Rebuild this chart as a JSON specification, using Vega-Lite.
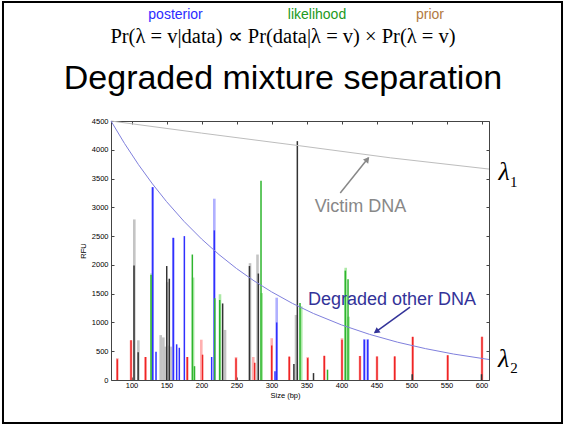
{
  "$schema": "https://vega.github.io/schema/vega-lite/v6.json",
  "width": 378,
  "height": 259,
  "autosize": {"type": "none"},
  "padding": {"left": 111, "top": 121, "right": 76, "bottom": 46},
  "background": "white",
  "config": {"view": {"stroke": null}, "font": "Liberation Sans"},
  "datasets": {
    "peaks": [
      {"bp": 104, "rfu": 2790, "dye": "black", "tone": "light"},
      {"bp": 109.8, "rfu": 690, "dye": "black", "tone": "light"},
      {"bp": 129, "rfu": 1860, "dye": "green", "tone": "light"},
      {"bp": 130.2, "rfu": 3350, "dye": "blue", "tone": "light"},
      {"bp": 141.7, "rfu": 780, "dye": "black", "tone": "light"},
      {"bp": 145.5, "rfu": 740, "dye": "black", "tone": "light"},
      {"bp": 148, "rfu": 580, "dye": "black", "tone": "light"},
      {"bp": 151, "rfu": 1700, "dye": "black", "tone": "light"},
      {"bp": 153, "rfu": 600, "dye": "black", "tone": "light"},
      {"bp": 157, "rfu": 580, "dye": "black", "tone": "light"},
      {"bp": 159.7, "rfu": 2470, "dye": "blue", "tone": "light"},
      {"bp": 188, "rfu": 1780, "dye": "green", "tone": "light"},
      {"bp": 218.3, "rfu": 3150, "dye": "blue", "tone": "light"},
      {"bp": 226.4, "rfu": 1490, "dye": "green", "tone": "light"},
      {"bp": 233.6, "rfu": 870, "dye": "black", "tone": "light"},
      {"bp": 269.3, "rfu": 2030, "dye": "black", "tone": "light"},
      {"bp": 280, "rfu": 2180, "dye": "black", "tone": "light"},
      {"bp": 286, "rfu": 1510, "dye": "green", "tone": "light"},
      {"bp": 307.4, "rfu": 1430, "dye": "blue", "tone": "light"},
      {"bp": 335, "rfu": 1130, "dye": "black", "tone": "light"},
      {"bp": 342.5, "rfu": 1280, "dye": "green", "tone": "light"},
      {"bp": 406, "rfu": 1950, "dye": "green", "tone": "light"},
      {"bp": 410, "rfu": 1100, "dye": "green", "tone": "light"},
      {"bp": 432.6, "rfu": 710, "dye": "blue", "tone": "light"},
      {"bp": 437.4, "rfu": 710, "dye": "blue", "tone": "light"},
      {"bp": 79.7, "rfu": 380, "dye": "red", "tone": "light"},
      {"bp": 99.3, "rfu": 690, "dye": "red", "tone": "light"},
      {"bp": 120, "rfu": 400, "dye": "red", "tone": "light"},
      {"bp": 179.7, "rfu": 400, "dye": "red", "tone": "light"},
      {"bp": 199.7, "rfu": 700, "dye": "red", "tone": "light"},
      {"bp": 249.3, "rfu": 400, "dye": "red", "tone": "light"},
      {"bp": 274, "rfu": 400, "dye": "red", "tone": "light"},
      {"bp": 300.3, "rfu": 726, "dye": "red", "tone": "light"},
      {"bp": 325.4, "rfu": 406, "dye": "red", "tone": "light"},
      {"bp": 351.7, "rfu": 400, "dye": "red", "tone": "light"},
      {"bp": 375.4, "rfu": 420, "dye": "red", "tone": "light"},
      {"bp": 400.7, "rfu": 726, "dye": "red", "tone": "light"},
      {"bp": 426.4, "rfu": 418, "dye": "red", "tone": "light"},
      {"bp": 450.7, "rfu": 410, "dye": "red", "tone": "light"},
      {"bp": 476, "rfu": 410, "dye": "red", "tone": "light"},
      {"bp": 501.7, "rfu": 750, "dye": "red", "tone": "light"},
      {"bp": 551.7, "rfu": 430, "dye": "red", "tone": "light"},
      {"bp": 600.7, "rfu": 750, "dye": "red", "tone": "light"},
      {"bp": 79.7, "rfu": 360, "dye": "red", "tone": "dark"},
      {"bp": 99.3, "rfu": 690, "dye": "red", "tone": "dark"},
      {"bp": 120, "rfu": 400, "dye": "red", "tone": "dark"},
      {"bp": 179.7, "rfu": 400, "dye": "red", "tone": "dark"},
      {"bp": 201.5, "rfu": 440, "dye": "red", "tone": "dark"},
      {"bp": 249.3, "rfu": 380, "dye": "red", "tone": "dark"},
      {"bp": 276, "rfu": 300, "dye": "red", "tone": "dark"},
      {"bp": 300.3, "rfu": 600, "dye": "red", "tone": "dark"},
      {"bp": 325.4, "rfu": 406, "dye": "red", "tone": "dark"},
      {"bp": 351.7, "rfu": 380, "dye": "red", "tone": "dark"},
      {"bp": 375.4, "rfu": 420, "dye": "red", "tone": "dark"},
      {"bp": 400.7, "rfu": 700, "dye": "red", "tone": "dark"},
      {"bp": 426.4, "rfu": 418, "dye": "red", "tone": "dark"},
      {"bp": 450.7, "rfu": 410, "dye": "red", "tone": "dark"},
      {"bp": 476, "rfu": 410, "dye": "red", "tone": "dark"},
      {"bp": 501.7, "rfu": 750, "dye": "red", "tone": "dark"},
      {"bp": 551.7, "rfu": 430, "dye": "red", "tone": "dark"},
      {"bp": 600.7, "rfu": 750, "dye": "red", "tone": "dark"},
      {"bp": 103.6, "rfu": 1990, "dye": "black", "tone": "dark"},
      {"bp": 109.5, "rfu": 480, "dye": "black", "tone": "dark"},
      {"bp": 150.3, "rfu": 1980, "dye": "black", "tone": "dark"},
      {"bp": 154, "rfu": 1760, "dye": "black", "tone": "dark"},
      {"bp": 230.2, "rfu": 1330, "dye": "black", "tone": "dark"},
      {"bp": 268.5, "rfu": 1980, "dye": "black", "tone": "dark"},
      {"bp": 281.2, "rfu": 1850, "dye": "black", "tone": "dark"},
      {"bp": 332, "rfu": 280, "dye": "black", "tone": "dark"},
      {"bp": 336.9, "rfu": 4150, "dye": "black", "tone": "dark"},
      {"bp": 360, "rfu": 120, "dye": "black", "tone": "dark"},
      {"bp": 501, "rfu": 100, "dye": "black", "tone": "dark"},
      {"bp": 600, "rfu": 100, "dye": "black", "tone": "dark"},
      {"bp": 130.2, "rfu": 3350, "dye": "blue", "tone": "dark"},
      {"bp": 135, "rfu": 490, "dye": "blue", "tone": "dark"},
      {"bp": 159.7, "rfu": 2470, "dye": "blue", "tone": "dark"},
      {"bp": 164.5, "rfu": 620, "dye": "blue", "tone": "dark"},
      {"bp": 168.3, "rfu": 560, "dye": "blue", "tone": "dark"},
      {"bp": 175.5, "rfu": 2500, "dye": "blue", "tone": "dark"},
      {"bp": 214.5, "rfu": 400, "dye": "blue", "tone": "dark"},
      {"bp": 218.3, "rfu": 2600, "dye": "blue", "tone": "dark"},
      {"bp": 305, "rfu": 150, "dye": "blue", "tone": "dark"},
      {"bp": 307.4, "rfu": 1000, "dye": "blue", "tone": "dark"},
      {"bp": 432.6, "rfu": 700, "dye": "blue", "tone": "dark"},
      {"bp": 437.4, "rfu": 700, "dye": "blue", "tone": "dark"},
      {"bp": 127.9, "rfu": 1830, "dye": "green", "tone": "dark"},
      {"bp": 186.9, "rfu": 2180, "dye": "green", "tone": "dark"},
      {"bp": 190, "rfu": 240, "dye": "green", "tone": "dark"},
      {"bp": 219, "rfu": 1420, "dye": "green", "tone": "dark"},
      {"bp": 226, "rfu": 1390, "dye": "green", "tone": "dark"},
      {"bp": 285, "rfu": 3460, "dye": "green", "tone": "dark"},
      {"bp": 340.7, "rfu": 1340, "dye": "green", "tone": "dark"},
      {"bp": 380, "rfu": 180, "dye": "green", "tone": "dark"},
      {"bp": 405.4, "rfu": 1900, "dye": "green", "tone": "dark"},
      {"bp": 409.3, "rfu": 1750, "dye": "green", "tone": "dark"}
    ],
    "victim": [
      {"bp": 70.7, "rfu": 4500},
      {"bp": 200, "rfu": 4290},
      {"bp": 340, "rfu": 4070},
      {"bp": 470, "rfu": 3860},
      {"bp": 610.7, "rfu": 3665}
    ],
    "degraded": [
      {"bp": 70.7, "rfu": 4500},
      {"bp": 90, "rfu": 4110},
      {"bp": 110, "rfu": 3741},
      {"bp": 130, "rfu": 3406},
      {"bp": 150, "rfu": 3100},
      {"bp": 175, "rfu": 2756},
      {"bp": 200, "rfu": 2451},
      {"bp": 225, "rfu": 2179},
      {"bp": 250, "rfu": 1937},
      {"bp": 275, "rfu": 1723},
      {"bp": 300, "rfu": 1532},
      {"bp": 330, "rfu": 1330},
      {"bp": 360, "rfu": 1155},
      {"bp": 400, "rfu": 957},
      {"bp": 440, "rfu": 793},
      {"bp": 480, "rfu": 657},
      {"bp": 520, "rfu": 545},
      {"bp": 560, "rfu": 451},
      {"bp": 610.7, "rfu": 356}
    ]
  },
  "layer": [
    {
      "data": {"values": [{"x0": -83.6, "x1": 715, "y0": 6568, "y1": -747}]},
      "mark": {"type": "rect", "fill": null, "stroke": "black", "strokeWidth": 2},
      "encoding": {
        "x": {"field": "x0", "type": "quantitative", "scale": {"domain": [70.7, 610.7], "nice": false, "zero": false}, "axis": null},
        "x2": {"field": "x1"},
        "y": {"field": "y0", "type": "quantitative", "scale": {"domain": [0, 4500], "nice": false}, "axis": null},
        "y2": {"field": "y1"}
      }
    },
    {
      "data": {"name": "peaks"},
      "transform": [{"filter": "datum.tone === 'light'"}],
      "mark": {"type": "rule", "strokeWidth": 2.6},
      "encoding": {
        "x": {"field": "bp", "type": "quantitative",
          "axis": {"orient": "bottom", "values": [100, 150, 200, 250, 300, 350, 400, 450, 500, 550, 600],
            "labelFontSize": 7.5, "labelColor": "black", "labelFlush": false, "labelOverlap": false,
            "tickSize": -3, "tickColor": "#444", "domainColor": "#444", "labelPadding": 4,
            "grid": false, "title": "Size (bp)", "titleFontSize": 7.5, "titleFontWeight": "normal",
            "titleColor": "black", "titleX": 174, "titlePadding": 3}},
        "y": {"field": "rfu", "type": "quantitative", "axis": null},
        "y2": {"datum": 0},
        "color": {"field": "dye", "type": "nominal", "legend": null,
          "scale": {"domain": ["black", "blue", "green", "red"], "range": ["#c4c4c4", "#b0b0ff", "#ace9a6", "#ffb0b0"]}}
      }
    },
    {
      "data": {"name": "peaks"},
      "transform": [{"filter": "datum.tone === 'dark'"}],
      "mark": {"type": "rule", "strokeWidth": 1.5},
      "encoding": {
        "x": {"field": "bp", "type": "quantitative", "axis": null},
        "y": {"field": "rfu", "type": "quantitative",
          "axis": {"orient": "left", "values": [0, 500, 1000, 1500, 2000, 2500, 3000, 3500, 4000, 4500], "format": "d",
            "labelFontSize": 7.5, "labelColor": "black", "labelFlush": false, "labelOverlap": false,
            "tickSize": -3, "tickColor": "#444", "domainColor": "#444", "labelPadding": 6,
            "grid": false, "title": "RFU", "titleFontSize": 7.5, "titleFontWeight": "normal",
            "titleColor": "black", "titlePadding": 4}},
        "y2": {"datum": 0},
        "color": {"field": "dye", "type": "nominal", "legend": null,
          "scale": {"domain": ["black", "blue", "green", "red"], "range": ["#333333", "#3030ff", "#2eb52e", "#ee2525"]}}
      }
    },
    {
      "data": {"name": "victim"},
      "mark": {"type": "line", "color": "#bdbdbd", "strokeWidth": 1},
      "encoding": {
        "x": {"field": "bp", "type": "quantitative",
          "axis": {"orient": "top", "values": [100, 150, 200, 250, 300, 350, 400, 450, 500, 550, 600],
            "labels": false, "tickSize": -3, "tickColor": "#444", "domainColor": "#444", "grid": false, "title": null}},
        "y": {"field": "rfu", "type": "quantitative",
          "axis": {"orient": "right", "values": [0, 500, 1000, 1500, 2000, 2500, 3000, 3500, 4000, 4500],
            "labels": false, "tickSize": -3, "tickColor": "#444", "domainColor": "#444", "grid": false, "title": null}}
      }
    },
    {
      "data": {"name": "degraded"},
      "mark": {"type": "line", "color": "#8080dd", "strokeWidth": 1},
      "encoding": {
        "x": {"field": "bp", "type": "quantitative", "axis": null},
        "y": {"field": "rfu", "type": "quantitative", "axis": null}
      }
    },
    {
      "data": {"values": [{"bp": 398.2, "rfu": 3249, "bp2": 438.5, "rfu2": 3860}]},
      "mark": {"type": "rule", "color": "#888888", "strokeWidth": 1.5},
      "encoding": {
        "x": {"field": "bp", "type": "quantitative", "axis": null},
        "y": {"field": "rfu", "type": "quantitative", "axis": null},
        "x2": {"field": "bp2"},
        "y2": {"field": "rfu2"}
      }
    },
    {
      "data": {"values": [{"bp": 497.9, "rfu": 1268, "bp2": 448, "rfu2": 827}]},
      "mark": {"type": "rule", "color": "#333399", "strokeWidth": 1.5},
      "encoding": {
        "x": {"field": "bp", "type": "quantitative", "axis": null},
        "y": {"field": "rfu", "type": "quantitative", "axis": null},
        "x2": {"field": "bp2"},
        "y2": {"field": "rfu2"}
      }
    },
    {
      "data": {"values": [{"bp": 437, "rfu": 3835}]},
      "mark": {"type": "point", "shape": "triangle-up", "filled": true, "color": "#888888", "size": 45, "angle": 39, "opacity": 1},
      "encoding": {
        "x": {"field": "bp", "type": "quantitative", "axis": null},
        "y": {"field": "rfu", "type": "quantitative", "axis": null}
      }
    },
    {
      "data": {"values": [{"bp": 449.6, "rfu": 841}]},
      "mark": {"type": "point", "shape": "triangle-up", "filled": true, "color": "#333399", "size": 45, "angle": 234, "opacity": 1},
      "encoding": {
        "x": {"field": "bp", "type": "quantitative", "axis": null},
        "y": {"field": "rfu", "type": "quantitative", "axis": null}
      }
    },
    {
      "data": {"values": [{"t": "posterior", "bp": 162.9, "rfu": 6272}]},
      "mark": {"type": "text", "color": "#2b2bff", "fontSize": 14, "font": "Liberation Sans", "align": "center", "baseline": "alphabetic"},
      "encoding": {"x": {"field": "bp", "type": "quantitative", "axis": null}, "y": {"field": "rfu", "type": "quantitative", "axis": null}, "text": {"field": "t"}}
    },
    {
      "data": {"values": [{"t": "likelihood", "bp": 365, "rfu": 6272}]},
      "mark": {"type": "text", "color": "#229922", "fontSize": 14, "font": "Liberation Sans", "align": "center", "baseline": "alphabetic"},
      "encoding": {"x": {"field": "bp", "type": "quantitative", "axis": null}, "y": {"field": "rfu", "type": "quantitative", "axis": null}, "text": {"field": "t"}}
    },
    {
      "data": {"values": [{"t": "prior", "bp": 526.4, "rfu": 6272}]},
      "mark": {"type": "text", "color": "#b27a42", "fontSize": 14, "font": "Liberation Sans", "align": "center", "baseline": "alphabetic"},
      "encoding": {"x": {"field": "bp", "type": "quantitative", "axis": null}, "y": {"field": "rfu", "type": "quantitative", "axis": null}, "text": {"field": "t"}}
    },
    {
      "data": {"values": [{"t": "Pr(λ = v|data) ∝ Pr(data|λ = v) × Pr(λ = v)", "bp": 316.4, "rfu": 5855}]},
      "mark": {"type": "text", "color": "black", "fontSize": 20.5, "font": "Liberation Serif", "align": "center", "baseline": "alphabetic"},
      "encoding": {"x": {"field": "bp", "type": "quantitative", "axis": null}, "y": {"field": "rfu", "type": "quantitative", "axis": null}, "text": {"field": "t"}}
    },
    {
      "data": {"values": [{"t": "Degraded mixture separation", "bp": 316.4, "rfu": 5056}]},
      "mark": {"type": "text", "color": "black", "fontSize": 34, "font": "Liberation Sans", "align": "center", "baseline": "alphabetic"},
      "encoding": {"x": {"field": "bp", "type": "quantitative", "axis": null}, "y": {"field": "rfu", "type": "quantitative", "axis": null}, "text": {"field": "t"}}
    },
    {
      "data": {"values": [{"t": "Victim DNA", "bp": 427.1, "rfu": 2919}]},
      "mark": {"type": "text", "color": "#888888", "fontSize": 18, "font": "Liberation Sans", "align": "center", "baseline": "alphabetic"},
      "encoding": {"x": {"field": "bp", "type": "quantitative", "axis": null}, "y": {"field": "rfu", "type": "quantitative", "axis": null}, "text": {"field": "t"}}
    },
    {
      "data": {"values": [{"t": "Degraded other DNA", "bp": 472.1, "rfu": 1303}]},
      "mark": {"type": "text", "color": "#333399", "fontSize": 18, "font": "Liberation Sans", "align": "center", "baseline": "alphabetic"},
      "encoding": {"x": {"field": "bp", "type": "quantitative", "axis": null}, "y": {"field": "rfu", "type": "quantitative", "axis": null}, "text": {"field": "t"}}
    },
    {
      "data": {"values": [{"t": "λ", "bp": 632.3, "rfu": 3475}, {"t": "λ", "bp": 631.5, "rfu": 231}]},
      "mark": {"type": "text", "color": "black", "fontSize": 26, "font": "Liberation Serif", "fontStyle": "italic", "align": "center", "baseline": "alphabetic"},
      "encoding": {"x": {"field": "bp", "type": "quantitative", "axis": null}, "y": {"field": "rfu", "type": "quantitative", "axis": null}, "text": {"field": "t"}}
    },
    {
      "data": {"values": [{"t": "1", "bp": 646, "rfu": 3358}, {"t": "2", "bp": 646.4, "rfu": 122}]},
      "mark": {"type": "text", "color": "black", "fontSize": 15, "font": "Liberation Serif", "align": "center", "baseline": "alphabetic"},
      "encoding": {"x": {"field": "bp", "type": "quantitative", "axis": null}, "y": {"field": "rfu", "type": "quantitative", "axis": null}, "text": {"field": "t"}}
    }
  ],
  "resolve": {"axis": {"x": "independent", "y": "independent"}, "scale": {"color": "independent"}}
}
